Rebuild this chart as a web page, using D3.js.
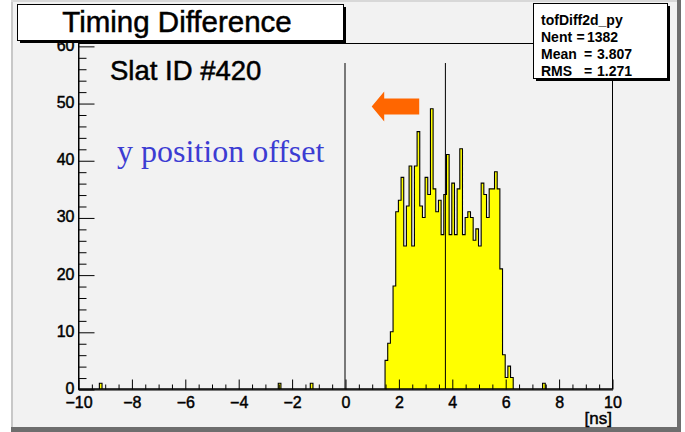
<!DOCTYPE html>
<html><head><meta charset="utf-8">
<script src="https://cdn.jsdelivr.net/npm/d3@7"></script>
<style>body{margin:0;background:#fff}svg{display:block}</style>
</head><body>
<svg id="c" width="685" height="432"></svg>
<script>
// ---- data ----
const binWidth = 0.1;
const xMin = -10, xMax = 10;
const coreStart = 1.5;
const coreCounts = [5,8,10,18,31,33,37,25,32,39,25,39,45,32,30,37,34,49,35,31,33,27,34,41,27,36,27,35,42,27,30,31,30,26,28,25,36,34,30,35,35,38,35,21,6,2,4,2];
const strayBins = [-9.2, -2.5, -1.3, 7.4];
const strayCounts = [1, 1, 1, 1];
const xMajorTicks = [-10,-8,-6,-4,-2,0,2,4,6,8,10];
const yMajorTicks = [0,10,20,30,40,50,60];
const markerLines = [0, 3.76];
const markerTop = 57;
const arrowFrom = [2.78, 49.4], arrowTo = [1.0, 49.4];
const titleText = "Timing Difference";
const slatText = "Slat ID #420";
const noteText = "y position offset";
const statsName = "tofDiff2d_py";
const statsLabels = ["Nent", "Mean", "RMS"];
const statsValues = ["1382", "3.807", "1.271"];
const xUnit = "[ns]";

// ---- layout ----
const svg = d3.select("#c");
const F = "'Liberation Sans', Arial, Helvetica, sans-serif";
const x = d3.scaleLinear([xMin, xMax], [78, 612]);
const y = d3.scaleLinear([0, 60.5], [389, 43]);
const heavy = (sel, w) => sel.attr("stroke", "#000").attr("stroke-width", w).attr("paint-order", "stroke");

// canvas background with bevel
svg.append("rect").attr("x",11).attr("y",0).attr("width",670).attr("height",432).attr("fill","#f2f2f2");
svg.append("rect").attr("x",11).attr("y",0).attr("width",2).attr("height",432).attr("fill","#c8c8c8");
svg.append("rect").attr("x",11).attr("y",0).attr("width",670).attr("height",2).attr("fill","#d8d8d8");
svg.append("rect").attr("x",677).attr("y",0).attr("width",4).attr("height",432).attr("fill","#6e6e6e");
svg.append("rect").attr("x",11).attr("y",427).attr("width",670).attr("height",5).attr("fill","#6e6e6e");

// histogram bins
const nBins = Math.round((xMax - xMin) / binWidth);
const counts = new Array(nBins).fill(0);
const idx = v => Math.round((v - xMin) / binWidth);
coreCounts.forEach((c, i) => { counts[idx(coreStart) + i] = c; });
strayBins.forEach((b, i) => { counts[idx(b)] = strayCounts[i]; });
const pts = [[xMin, 0]];
counts.forEach((c, i) => {
  const lo = xMin + i * binWidth, hi = lo + binWidth;
  pts.push([lo, c], [hi, c]);
});
pts.push([xMax, 0]);
const line = d3.line().x(d => x(d[0])).y(d => y(d[1]));
svg.append("path").attr("d", line(pts) + "Z")
  .attr("fill", "#ffff00").attr("stroke", "#000").attr("stroke-width", 1.1);

// marker lines
markerLines.forEach(v => {
  svg.append("line").attr("x1", x(v)).attr("x2", x(v))
    .attr("y1", y(0)).attr("y2", y(markerTop))
    .attr("stroke", "#000").attr("stroke-width", 1);
});

// frame
svg.append("rect").attr("x", 78.5).attr("y", 43.5).attr("width", 534).attr("height", 345.5)
  .attr("fill", "none").attr("stroke", "#000").attr("stroke-width", 1);

// x axis
const xMinor = d3.range(xMin, xMax + 0.001, 0.5).filter(v => !xMajorTicks.includes(v));
const gx = svg.append("g").attr("transform", "translate(0.5,389.5)");
gx.call(d3.axisBottom(x).tickValues(xMajorTicks).tickSize(-10).tickSizeOuter(0).tickPadding(7.5)
  .tickFormat(d => (d < 0 ? "\u2212" + Math.abs(d) : String(d))));
const gx2 = svg.append("g").attr("transform", "translate(0.5,389.5)");
gx2.call(d3.axisBottom(x).tickValues(xMinor).tickSize(-5).tickSizeOuter(0).tickFormat(""));
gx2.select(".domain").remove();

// y axis
const yMinor = d3.range(0, 60.001, 2).filter(v => !yMajorTicks.includes(v));
const gy = svg.append("g").attr("transform", "translate(78.5,0.5)");
gy.call(d3.axisLeft(y).tickValues(yMajorTicks).tickSize(-16).tickSizeOuter(0).tickPadding(4));
const gy2 = svg.append("g").attr("transform", "translate(78.5,0.5)");
gy2.call(d3.axisLeft(y).tickValues(yMinor).tickSize(-8).tickSizeOuter(0).tickFormat(""));
gy2.select(".domain").remove();
[gx, gy].forEach(g => heavy(g.selectAll("text").attr("font-family", F).attr("font-size", 16).attr("fill", "#000"), 0.45));
gy.selectAll("text").attr("dy", "0.25em");
svg.selectAll(".tick line, .domain").attr("stroke", "#000");

// x unit
heavy(svg.append("text").attr("x", 612).attr("y", 424).attr("text-anchor", "end")
  .attr("font-family", F).attr("font-size", 17).text(xUnit), 0.45);

// annotations
heavy(svg.append("text").attr("x", 110).attr("y", 80).attr("font-family", F).attr("font-size", 27.5).text(slatText), 0.5);
svg.append("text").attr("x", 117).attr("y", 162).attr("font-family", "'Liberation Serif', 'Times New Roman', serif")
  .attr("font-size", 32).attr("fill", "#3c3cd2").text(noteText);

// arrow
const ax0 = x(arrowFrom[0]), ax1 = x(arrowTo[0]), ay = y(arrowTo[1]);
const headLen = 12.5, headHalf = 15, shaftHalf = 8;
svg.append("path").attr("fill", "#ff6600")
  .attr("d", `M${ax1},${ay} L${ax1 + headLen},${ay - headHalf} L${ax1 + headLen},${ay - shaftHalf} L${ax0},${ay - shaftHalf} L${ax0},${ay + shaftHalf} L${ax1 + headLen},${ay + shaftHalf} L${ax1 + headLen},${ay + headHalf} Z`);

// boxes
function pave(x0, y0, w, h) {
  svg.append("rect").attr("x", x0 + 3).attr("y", y0 + 3).attr("width", w).attr("height", h).attr("fill", "#000");
  svg.append("rect").attr("x", x0 + 0.5).attr("y", y0 + 0.5).attr("width", w).attr("height", h)
    .attr("fill", "#fff").attr("stroke", "#000").attr("stroke-width", 1);
}
pave(17, 4, 326, 36);
heavy(svg.append("text").attr("x", 177).attr("y", 32).attr("text-anchor", "middle")
  .attr("font-family", F).attr("font-size", 29.5).text(titleText), 0.5);

pave(533, 3, 134, 75);
const st = svg.append("g").attr("font-family", F).attr("font-size", 14).attr("font-weight", "bold");
st.append("text").attr("x", 541).attr("y", 24.5).text(statsName);
const eqX = [576.5, 584, 584], valX = [587, 597, 597];
statsLabels.forEach((lab, i) => {
  const yy = 41.5 + i * 17;
  st.append("text").attr("x", 541).attr("y", yy).text(lab);
  st.append("text").attr("x", eqX[i]).attr("y", yy).text("=");
  st.append("text").attr("x", valX[i]).attr("y", yy).text(statsValues[i]);
});
</script>
</body></html>
